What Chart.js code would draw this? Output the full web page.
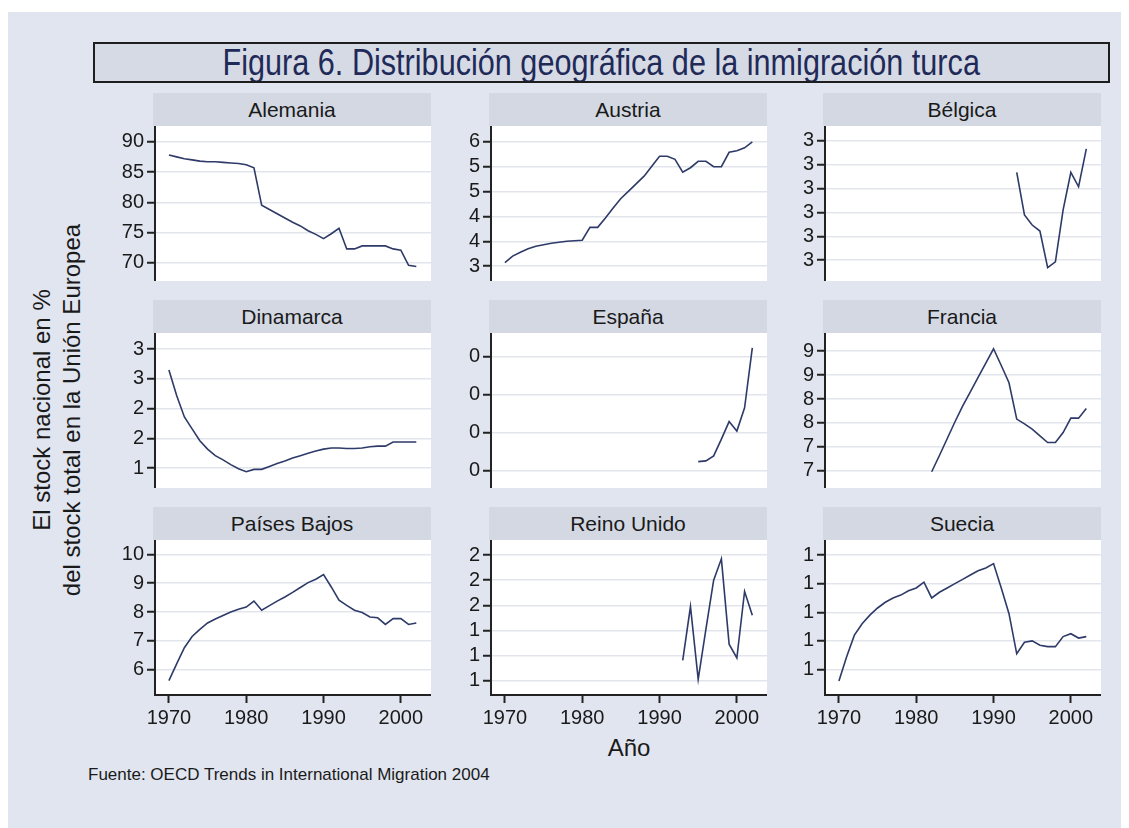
<!DOCTYPE html>
<html>
<head>
<meta charset="utf-8">
<script src="https://cdn.jsdelivr.net/npm/chart.js@4.4.1/dist/chart.umd.min.js"></script>
<style>
  body { margin: 0; background: #fff; font-family: "Liberation Sans", Arial, sans-serif; }
  #page { position: relative; width: 1129px; height: 828px; overflow: hidden; }
  #bg { position: absolute; left: 8px; top: 12px; width: 1113px; height: 816px; background: #e1e5ef; }
  #title { position: absolute; left: 93px; top: 42px; width: 1013px; height: 37px; border: 2px solid #1e1e1e;
           background: #d5dae5; text-align: center; line-height: 37px; overflow: hidden; }
  #title span { display: inline-block; font-size: 36px; color: #1f2a58; white-space: nowrap; transform-origin: center; }
  .strip { position: absolute; height: 33px; background: #d3d8e3; text-align: center; line-height: 33px;
           font-size: 21px; color: #1a1a1a; }
  canvas { position: absolute; }
  #ytitle { position: absolute; left: 57px; top: 410px; width: 520px; margin-left: -260px; text-align: center;
            font-size: 24px; line-height: 30px; color: #1a1a1a; transform: translateY(-50%) rotate(-90deg); }
  #xtitle { position: absolute; left: 529px; top: 734px; width: 200px; text-align: center; font-size: 24px; color: #1a1a1a; }
  #source { position: absolute; left: 88px; top: 765px; font-size: 17px; color: #1a1a1a; }
</style>
</head>
<body>
<div id="page">
  <div id="bg"></div>
  <div id="title"><span id="titleText">Figura 6. Distribución geográfica de la inmigración turca</span></div>
  <div id="ytitle">El stock nacional en %<br>del stock total en la Unión Europea</div>
  <div id="xtitle">Año</div>
  <div id="source">Fuente: OECD Trends in International Migration 2004</div>
</div>
<script>
// years on the x axis
const years = [1970, 1971, 1972, 1973, 1974, 1975, 1976, 1977, 1978, 1979, 1980, 1981, 1982, 1983, 1984, 1985,
  1986, 1987, 1988, 1989, 1990, 1991, 1992, 1993, 1994, 1995, 1996, 1997, 1998, 1999, 2000, 2001, 2002];
const xTicks = [1970, 1980, 1990, 2000];

const countries = ["Alemania", "Austria", "Bélgica", "Dinamarca", "España", "Francia", "Países Bajos", "Reino Unido", "Suecia"];

// share of the EU turkish stock
const alemania = [87.8, 87.5, 87.2, 87.0, 86.8, 86.7, 86.7, 86.6, 86.5, 86.4, 86.2, 85.7, 79.5, 78.8, 78.1, 77.4,
  76.7, 76.1, 75.3, 74.7, 74.0, 74.8, 75.7, 72.3, 72.3, 72.8, 72.8, 72.8, 72.8, 72.3, 72.1, 69.6, 69.4];
const austria = [3.07, 3.20, 3.28, 3.35, 3.40, 3.43, 3.46, 3.48, 3.50, 3.51, 3.52, 3.78, 3.78, 3.97, 4.17, 4.36,
  4.51, 4.66, 4.81, 5.01, 5.21, 5.21, 5.15, 4.89, 4.98, 5.11, 5.11, 5.00, 5.00, 5.29, 5.32, 5.38, 5.50];
const belgica = [null, null, null, null, null, null, null, null, null, null, null, null, null, null, null, null,
  null, null, null, null, null, null, null, 2.967, 2.789, 2.747, 2.722, 2.569, 2.593, 2.81, 2.967, 2.907, 3.065];
const dinamarca = [2.65, 2.22, 1.86, 1.66, 1.46, 1.32, 1.21, 1.14, 1.06, 0.99, 0.94, 0.98, 0.98, 1.03, 1.08, 1.12,
  1.17, 1.21, 1.25, 1.29, 1.32, 1.34, 1.34, 1.33, 1.33, 1.34, 1.36, 1.37, 1.37, 1.44, 1.44, 1.44, 1.44];
const espana = [null, null, null, null, null, null, null, null, null, null, null, null, null, null, null, null,
  null, null, null, null, null, null, null, null, null, 0.0124, 0.0126, 0.0139, 0.0183, 0.0229, 0.0204, 0.0265, 0.0422];
const francia = [null, null, null, null, null, null, null, null, null, null, null, null, 6.48, 6.82, 7.17, 7.52,
  7.85, 8.15, 8.45, 8.75, 9.05, 8.70, 8.34, 7.58, 7.48, 7.37, 7.23, 7.09, 7.09, 7.30, 7.60, 7.60, 7.80];
const paisesBajos = [5.62, 6.20, 6.76, 7.15, 7.40, 7.62, 7.76, 7.88, 8.00, 8.10, 8.17, 8.38, 8.06, 8.22, 8.38, 8.52,
  8.68, 8.85, 9.02, 9.14, 9.30, 8.87, 8.41, 8.23, 8.06, 7.98, 7.83, 7.80, 7.57, 7.77, 7.77, 7.57, 7.62];
const reinoUnido = [null, null, null, null, null, null, null, null, null, null, null, null, null, null, null, null,
  null, null, null, null, null, null, null, 1.16, 1.59, 1.01, 1.41, 1.80, 1.97, 1.29, 1.18, 1.71, 1.52];
const suecia = [0.52, 0.69, 0.84, 0.92, 0.98, 1.03, 1.07, 1.10, 1.12, 1.15, 1.17, 1.21, 1.10, 1.14, 1.17, 1.20,
  1.23, 1.26, 1.29, 1.31, 1.34, 1.17, 0.99, 0.71, 0.79, 0.80, 0.77, 0.76, 0.76, 0.83, 0.85, 0.82, 0.83];

// y tick values per panel (labels are shown rounded to whole numbers, as in the original)
const yTicksAlemania = [70, 75, 80, 85, 90];
const yTicksAustria = [3, 3.5, 4, 4.5, 5, 5.5];
const yTicksBelgica = [2.6, 2.7, 2.8, 2.9, 3.0, 3.1];
const yTicksDinamarca = [1, 1.5, 2, 2.5, 3];
const yTicksEspana = [0.01, 0.02, 0.03, 0.04];
const yTicksFrancia = [6.5, 7, 7.5, 8, 8.5, 9];
const yTicksPaisesBajos = [6, 7, 8, 9, 10];
const yTicksReinoUnido = [1, 1.2, 1.4, 1.6, 1.8, 2];
const yTicksSuecia = [0.6, 0.8, 1.0, 1.2, 1.4];

const panels = [
  { series: alemania, ticks: yTicksAlemania, min: 67.0, max: 92.6 },
  { series: austria, ticks: yTicksAustria, min: 2.70, max: 5.82 },
  { series: belgica, ticks: yTicksBelgica, min: 2.513, max: 3.161 },
  { series: dinamarca, ticks: yTicksDinamarca, min: 0.667, max: 3.27 },
  { series: espana, ticks: yTicksEspana, min: 0.0055, max: 0.0461 },
  { series: francia, ticks: yTicksFrancia, min: 6.14, max: 9.38 },
  { series: paisesBajos, ticks: yTicksPaisesBajos, min: 5.12, max: 10.5 },
  { series: reinoUnido, ticks: yTicksReinoUnido, min: 0.885, max: 2.12 },
  { series: suecia, ticks: yTicksSuecia, min: 0.422, max: 1.505 },
];

const LINE = "#2e3a68";
const AXIS = "#222222";
const GRID = "#e2e5ec";
const TEXT = "#1a1a1a";
const tickFont = { family: "'Liberation Sans', Arial, sans-serif", size: 20 };

const plotLeft = [155, 491, 825];
const plotTop = [126, 333, 540];
const plotW = 276, plotH = 155, yAxisW = 70, xAxisH = 45;

// white plot region behind the grid
const plotBg = {
  id: "plotBg",
  beforeDraw(chart) {
    const a = chart.chartArea;
    chart.ctx.save();
    chart.ctx.fillStyle = "#ffffff";
    chart.ctx.fillRect(a.left, a.top, a.right - a.left, a.bottom - a.top);
    chart.ctx.restore();
  }
};

const page = document.getElementById("page");

panels.forEach((p, i) => {
  const col = i % 3, row = Math.floor(i / 3);
  const showX = row === 2;

  const strip = document.createElement("div");
  strip.className = "strip";
  strip.textContent = countries[i];
  strip.style.left = (plotLeft[col] - 2) + "px";
  strip.style.top = (plotTop[row] - 33) + "px";
  strip.style.width = (plotW + 2) + "px";
  page.appendChild(strip);

  const canvas = document.createElement("canvas");
  canvas.width = yAxisW + plotW;
  canvas.height = plotH + (showX ? xAxisH : 0);
  canvas.style.left = (plotLeft[col] - yAxisW) + "px";
  canvas.style.top = plotTop[row] + "px";
  page.appendChild(canvas);

  new Chart(canvas, {
    type: "line",
    data: {
      datasets: [{
        data: years.map((yr, k) => ({ x: yr, y: p.series[k] })),
        borderColor: LINE,
        borderWidth: 1.6,
        pointRadius: 0,
        tension: 0,
        spanGaps: false,
      }],
    },
    options: {
      responsive: false,
      animation: false,
      devicePixelRatio: 1,
      layout: { padding: 0, autoPadding: false },
      plugins: { legend: { display: false }, tooltip: { enabled: false } },
      scales: {
        x: {
          type: "linear",
          min: 1968.2,
          max: 2003.9,
          display: showX,
          afterBuildTicks: (s) => { s.ticks = xTicks.map((v) => ({ value: v })); },
          afterFit: (s) => {
            s.height = showX ? xAxisH : 0;
            s.paddingLeft = 0; s.paddingRight = 0;
          },
          grid: { drawOnChartArea: false, drawTicks: true, tickLength: 8, tickColor: AXIS, tickWidth: 2 },
          border: { display: true, color: AXIS, width: 2 },
          ticks: { font: tickFont, color: TEXT, padding: 3, maxRotation: 0, autoSkip: false, callback: (v) => String(v) },
        },
        y: {
          min: p.min,
          max: p.max,
          afterBuildTicks: (s) => { s.ticks = p.ticks.map((v) => ({ value: v })); },
          afterFit: (s) => {
            s.width = yAxisW;
            s.paddingTop = 0; s.paddingBottom = 0;
          },
          grid: { color: GRID, lineWidth: 1.5, drawTicks: true, tickLength: 8, tickColor: AXIS, tickWidth: 2 },
          border: { display: true, color: AXIS, width: 2 },
          ticks: { font: tickFont, color: TEXT, padding: 3, autoSkip: false, callback: (v) => String(Math.round(v)) },
        },
      },
    },
    plugins: [plotBg],
  });
});

// squeeze the title to the condensed width of the original
const t = document.getElementById("titleText");
t.style.transform = "scaleX(" + (757 / t.offsetWidth) + ")";
</script>
</body>
</html>
